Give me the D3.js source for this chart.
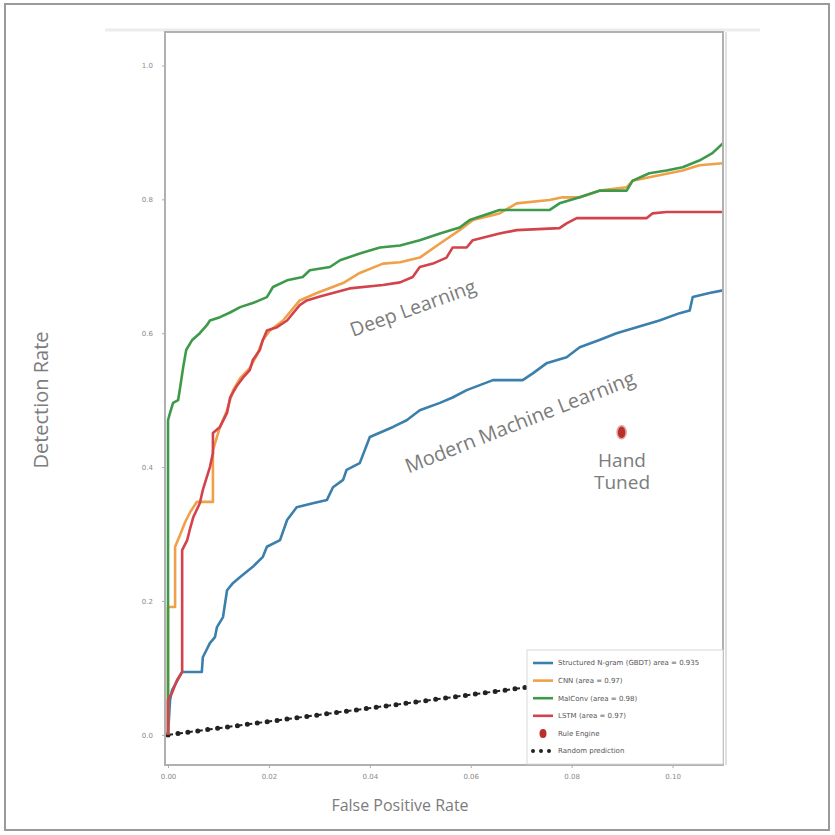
<!DOCTYPE html>
<html>
<head>
<meta charset="utf-8">
<script src="https://cdn.jsdelivr.net/npm/d3@7"></script>
<style>
  body { margin: 0; background: #fff; }
  svg { display: block; }
</style>
</head>
<body>
<div id="chart"></div>
<script>
// ROC curves (fpr, tpr)
const seriesNames = ["Structured N-gram (GBDT) area = 0.935", "CNN (area = 0.97)", "MalConv (area = 0.98)", "LSTM (area = 0.97)"];
const seriesColors = ["#3b7fad", "#f0a048", "#3d9a4a", "#d3434c"];

const ngramFpr = [0, 0.0004, 0.0008, 0.0028, 0.0067, 0.0069, 0.0083, 0.0093, 0.0097, 0.0109, 0.0117, 0.0129, 0.0143, 0.0168, 0.0188, 0.0196, 0.0222, 0.0236, 0.0255, 0.0287, 0.0315, 0.0327, 0.0347, 0.0354, 0.038, 0.04, 0.0446, 0.0473, 0.0499, 0.0539, 0.0564, 0.0592, 0.0644, 0.0703, 0.0723, 0.075, 0.079, 0.0816, 0.0855, 0.0889, 0.0929, 0.0974, 0.1014, 0.1034, 0.104, 0.1073, 0.11];
const ngramTpr = [0, 0.052, 0.067, 0.094, 0.094, 0.116, 0.137, 0.146, 0.161, 0.176, 0.216, 0.227, 0.236, 0.251, 0.266, 0.281, 0.291, 0.321, 0.340, 0.346, 0.351, 0.370, 0.381, 0.396, 0.406, 0.445, 0.460, 0.470, 0.485, 0.496, 0.504, 0.515, 0.530, 0.530, 0.540, 0.555, 0.564, 0.579, 0.590, 0.600, 0.609, 0.619, 0.630, 0.634, 0.654, 0.660, 0.664];

const cnnFpr = [0, 0, 0.0014, 0.0014, 0.0024, 0.0034, 0.0044, 0.0057, 0.0089, 0.0089, 0.0103, 0.0117, 0.0129, 0.0143, 0.0162, 0.0176, 0.0188, 0.0202, 0.0228, 0.0261, 0.0295, 0.0347, 0.038, 0.0426, 0.046, 0.0499, 0.0539, 0.0578, 0.0604, 0.0657, 0.0691, 0.0756, 0.0782, 0.0816, 0.0855, 0.0909, 0.0921, 0.0954, 0.102, 0.1053, 0.11];
const cnnTpr = [0, 0.191, 0.191, 0.281, 0.299, 0.318, 0.333, 0.348, 0.348, 0.425, 0.460, 0.485, 0.515, 0.533, 0.548, 0.567, 0.590, 0.604, 0.619, 0.649, 0.660, 0.675, 0.690, 0.704, 0.706, 0.713, 0.734, 0.754, 0.769, 0.779, 0.794, 0.799, 0.803, 0.803, 0.813, 0.818, 0.828, 0.833, 0.843, 0.851, 0.854];

const malconvFpr = [0, 0, 0.0004, 0.001, 0.002, 0.0024, 0.003, 0.0036, 0.0048, 0.0063, 0.0077, 0.0083, 0.0103, 0.0123, 0.0143, 0.0168, 0.0196, 0.0208, 0.0236, 0.0267, 0.0281, 0.0321, 0.0341, 0.038, 0.042, 0.046, 0.0499, 0.0539, 0.0578, 0.0598, 0.0657, 0.0756, 0.0776, 0.0816, 0.0855, 0.0909, 0.0921, 0.0954, 0.0988, 0.102, 0.1053, 0.1079, 0.11];
const malconvTpr = [0, 0.470, 0.481, 0.496, 0.500, 0.519, 0.549, 0.575, 0.590, 0.600, 0.612, 0.619, 0.624, 0.631, 0.639, 0.645, 0.654, 0.669, 0.679, 0.684, 0.694, 0.699, 0.709, 0.719, 0.728, 0.731, 0.739, 0.749, 0.758, 0.769, 0.784, 0.784, 0.794, 0.803, 0.813, 0.813, 0.828, 0.839, 0.843, 0.848, 0.858, 0.869, 0.884];

const lstmFpr = [0, 0, 0.0008, 0.0018, 0.0028, 0.0028, 0.0038, 0.0044, 0.005, 0.0063, 0.0069, 0.0083, 0.0089, 0.0089, 0.0103, 0.0117, 0.0123, 0.0137, 0.0149, 0.0162, 0.0168, 0.0182, 0.0188, 0.0196, 0.0216, 0.0236, 0.0261, 0.0275, 0.0301, 0.036, 0.0426, 0.046, 0.0485, 0.0499, 0.0525, 0.0552, 0.0564, 0.0592, 0.0604, 0.0657, 0.0691, 0.0776, 0.079, 0.081, 0.0949, 0.096, 0.0988, 0.11];
const lstmTpr = [0, 0.052, 0.063, 0.082, 0.094, 0.276, 0.291, 0.309, 0.325, 0.346, 0.366, 0.400, 0.421, 0.451, 0.460, 0.481, 0.504, 0.522, 0.534, 0.545, 0.560, 0.575, 0.590, 0.604, 0.609, 0.619, 0.642, 0.649, 0.655, 0.667, 0.672, 0.676, 0.684, 0.699, 0.704, 0.713, 0.728, 0.728, 0.739, 0.749, 0.754, 0.757, 0.764, 0.772, 0.772, 0.779, 0.781, 0.781];

const ruleEngine = { fpr: 0.0899, tpr: 0.452 };
const randomLine = [[0, 0], [0.11, 0.11]];

const xTicks = [0.00, 0.02, 0.04, 0.06, 0.08, 0.10];
const yTicks = [0.0, 0.2, 0.4, 0.6, 0.8, 1.0];
const legendLabels = seriesNames.concat(["Rule Engine", "Random prediction"]);

const W = 835, H = 835;
const plot = { left: 165, top: 32, right: 723, bottom: 765 };

const svg = d3.select("#chart").append("svg")
    .attr("width", W)
    .attr("height", H);

// outer frame
svg.append("rect")
    .attr("x", 5).attr("y", 4)
    .attr("width", 824).attr("height", 826)
    .attr("fill", "#fff")
    .attr("stroke", "#9a9a9a")
    .attr("stroke-width", 2);

const x = d3.scaleLinear().domain([-0.0006, 0.11]).range([plot.left, plot.right]);
const y = d3.scaleLinear().domain([-0.045, 1.05]).range([plot.bottom, plot.top]);

// faint scan line at top of the pasted figure
svg.append("line")
    .attr("x1", 105).attr("x2", 760)
    .attr("y1", plot.top - 2).attr("y2", plot.top - 2)
    .attr("stroke", "#ececec").attr("stroke-width", 3);

svg.append("defs").append("clipPath").attr("id", "clip")
    .append("rect")
    .attr("x", plot.left).attr("y", plot.top)
    .attr("width", plot.right - plot.left).attr("height", plot.bottom - plot.top);

// axes
const xAxis = svg.append("g")
    .attr("transform", `translate(0,${plot.bottom})`)
    .call(d3.axisBottom(x).tickValues(xTicks).tickFormat(d3.format(".2f")).tickSize(3));
const yAxis = svg.append("g")
    .attr("transform", `translate(${plot.left},0)`)
    .call(d3.axisLeft(y).tickValues(yTicks).tickFormat(d3.format(".1f")).tickSize(3));
[xAxis, yAxis].forEach(a => {
    a.select(".domain").remove();
    a.selectAll("line").attr("stroke", "#aaa");
    a.selectAll("text").attr("fill", "#8a8a8a").style("font-size", "7px").style("font-family", "DejaVu Sans");
});
xAxis.selectAll("text").attr("dy", "1.1em");
yAxis.selectAll("text").attr("dx", "-6px");

// random prediction
const g = svg.append("g").attr("clip-path", "url(#clip)");
const line = d3.line().x(d => x(d[0])).y(d => y(d[1]));
g.append("path")
    .datum(randomLine)
    .attr("d", line)
    .attr("fill", "none")
    .attr("stroke", "#222")
    .attr("stroke-width", 2)
    .attr("stroke-dasharray", "5,5");
g.append("path")
    .datum(randomLine)
    .attr("d", line)
    .attr("fill", "none")
    .attr("stroke", "#222")
    .attr("stroke-width", 5)
    .attr("stroke-linecap", "round")
    .attr("stroke-dasharray", "0,10");

// ROC curves
const curves = [
    d3.zip(ngramFpr, ngramTpr),
    d3.zip(cnnFpr, cnnTpr),
    d3.zip(malconvFpr, malconvTpr),
    d3.zip(lstmFpr, lstmTpr)
];
curves.forEach((c, i) => {
    g.append("path")
        .datum(c)
        .attr("d", line)
        .attr("fill", "none")
        .attr("stroke", seriesColors[i])
        .attr("stroke-width", 2.6)
        .attr("stroke-linejoin", "round");
});

// rule engine point
svg.append("ellipse")
    .attr("cx", x(ruleEngine.fpr)).attr("cy", y(ruleEngine.tpr))
    .attr("rx", 4.5).attr("ry", 6.5)
    .attr("fill", "#b8302c")
    .attr("stroke", "#e8a09a").attr("stroke-width", 1.5);

// plot frame
svg.append("rect")
    .attr("x", plot.left).attr("y", plot.top)
    .attr("width", plot.right - plot.left).attr("height", plot.bottom - plot.top)
    .attr("fill", "none")
    .attr("stroke", "#b0b0b0")
    .attr("stroke-width", 2);
svg.append("line")
    .attr("x1", plot.right + 3).attr("x2", plot.right + 3)
    .attr("y1", plot.top).attr("y2", plot.bottom)
    .attr("stroke", "#e0e0e0").attr("stroke-width", 2);

// legend
const lg = svg.append("g").attr("transform", "translate(527,650)");
lg.append("rect")
    .attr("width", 196).attr("height", 114)
    .attr("fill", "#fff")
    .attr("stroke", "#d8d8d8");
legendLabels.forEach((lab, i) => {
    const ly = 13 + i * 17.6;
    if (i < 4) {
        lg.append("line")
            .attr("x1", 6).attr("x2", 26).attr("y1", ly).attr("y2", ly)
            .attr("stroke", seriesColors[i]).attr("stroke-width", 2.6);
    } else if (i === 4) {
        lg.append("ellipse")
            .attr("cx", 16).attr("cy", ly).attr("rx", 3.5).attr("ry", 4.5)
            .attr("fill", "#b8302c");
    } else {
        lg.append("line")
            .attr("x1", 6).attr("x2", 26).attr("y1", ly).attr("y2", ly)
            .attr("stroke", "#222").attr("stroke-width", 4)
            .attr("stroke-linecap", "round").attr("stroke-dasharray", "0,8");
    }
    lg.append("text")
        .attr("x", 31).attr("y", ly)
        .attr("dy", "0.35em")
        .attr("fill", "#555")
        .style("font-size", "7px")
        .style("font-family", "DejaVu Sans")
        .text(lab);
});

// annotations
const annFont = "'Open Sans', sans-serif";
function note(txt, cx, cy, rot, size) {
    svg.append("text")
        .attr("transform", `translate(${cx},${cy}) rotate(${rot})`)
        .attr("text-anchor", "middle")
        .attr("dy", "0.35em")
        .attr("fill", "#7c7c7c")
        .style("font-family", annFont)
        .style("font-size", size + "px")
        .text(txt);
}
note("Deep Learning", 413, 308, -20, 19.5);
note("Modern Machine Learning", 520, 422, -21.5, 20);
note("Hand", 622, 460, 0, 19);
note("Tuned", 622, 482, 0, 19);
note("Detection Rate", 41, 400, -90, 20);
note("False Positive Rate", 400, 805, 0, 16);
</script>
</body>
</html>
